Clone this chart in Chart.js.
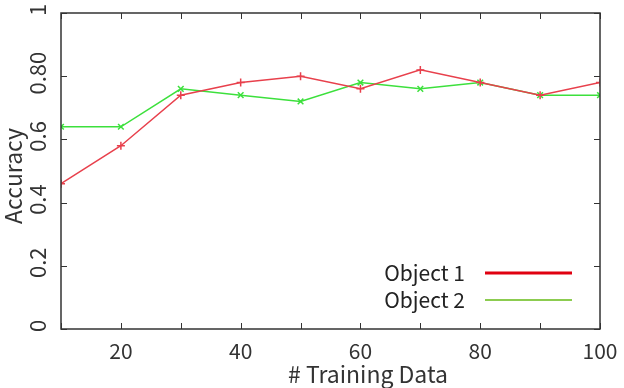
<!DOCTYPE html>
<html>
<head>
<meta charset="utf-8">
<script src="https://cdn.jsdelivr.net/npm/chart.js@4"></script>
<style>
  html, body { margin: 0; padding: 0; background: #fff; }
</style>
</head>
<body>
<canvas id="accChart" width="624" height="388"></canvas>
<script>
const trainingData = [10, 20, 30, 40, 50, 60, 70, 80, 90, 100];
const object1 = [0.46, 0.58, 0.74, 0.78, 0.80, 0.76, 0.82, 0.78, 0.74, 0.78];
const object2 = [0.64, 0.64, 0.76, 0.74, 0.72, 0.78, 0.76, 0.78, 0.74, 0.74];
const yTickValues = [0, 0.2, 0.4, 0.6, 0.8, 1];
const yTickLabels = ['0', '0.2', '0.4', '0.6', '0.80', '1'];
const xTitle = '# Training Data';
const yTitle = 'Accuracy';

const FONT = '"Noto Sans CJK JP", "Noto Sans", sans-serif';
const AXIS = '#333';

// gnuplot-like frame: box on four sides, inward ticks, rotated y labels, titles, legend inside
const framePlugin = {
    id: 'frame',
    afterDraw(chart) {
        const c = chart.ctx;
        const a = chart.chartArea;
        const xs = chart.scales.x;
        const ys = chart.scales.y;
        c.save();
        c.strokeStyle = AXIS;
        c.lineWidth = 1.5;
        c.strokeRect(a.left, a.top, a.right - a.left, a.bottom - a.top);

        c.lineWidth = 1;
        trainingData.forEach(v => {
            const px = Math.round(xs.getPixelForValue(v)) + 0.5;
            c.beginPath();
            c.moveTo(px, a.bottom); c.lineTo(px, a.bottom - 6);
            c.moveTo(px, a.top); c.lineTo(px, a.top + 6);
            c.stroke();
        });
        yTickValues.forEach(v => {
            const py = Math.round(ys.getPixelForValue(v)) + 0.5;
            c.beginPath();
            c.moveTo(a.left, py); c.lineTo(a.left + 6, py);
            c.moveTo(a.right, py); c.lineTo(a.right - 6, py);
            c.stroke();
        });

        // y tick labels, rotated
        c.fillStyle = AXIS;
        c.font = '22px ' + FONT;
        c.textAlign = 'center';
        c.textBaseline = 'middle';
        yTickValues.forEach((v, i) => {
            c.save();
            c.translate(38, ys.getPixelForValue(v) - 3);
            c.rotate(-Math.PI / 2);
            c.fillText(yTickLabels[i], 0, 0);
            c.restore();
        });

        // axis titles
        c.font = '23px ' + FONT;
        c.textBaseline = 'alphabetic';
        c.fillText(xTitle, 368, 383);
        c.save();
        c.translate(22, 176);
        c.rotate(-Math.PI / 2);
        c.fillText(yTitle, 0, 0);
        c.restore();

        // legend
        c.font = '21px ' + FONT;
        c.textAlign = 'right';
        c.textBaseline = 'middle';
        chart.data.datasets.forEach((ds, i) => {
            const y = 273 + i * 27;
            c.fillStyle = '#222';
            c.fillText(ds.label, 465, y);
            c.strokeStyle = ds.legendColor;
            c.lineWidth = ds.legendWidth;
            c.beginPath();
            c.moveTo(485, y); c.lineTo(572, y);
            c.stroke();
        });
        c.restore();
    }
};

new Chart(document.getElementById('accChart'), {
    type: 'line',
    data: {
        datasets: [{
            label: 'Object 1',
            data: trainingData.map((x, i) => ({ x: x, y: object1[i] })),
            borderColor: '#e8404c',
            backgroundColor: '#e8404c',
            legendColor: '#e00010',
            legendWidth: 3,
            borderWidth: 1.5,
            pointStyle: 'cross',
            pointRadius: 4,
            pointBorderWidth: 1.5,
            tension: 0
        }, {
            label: 'Object 2',
            data: trainingData.map((x, i) => ({ x: x, y: object2[i] })),
            borderColor: '#3ce03c',
            backgroundColor: '#3ce03c',
            legendColor: '#8ccc50',
            legendWidth: 2,
            borderWidth: 1.5,
            pointStyle: 'crossRot',
            pointRadius: 4,
            pointBorderWidth: 1.5,
            tension: 0
        }]
    },
    options: {
        responsive: false,
        animation: false,
        layout: { padding: { left: 0, right: 24, top: 13, bottom: 0 } },
        plugins: {
            legend: { display: false },
            tooltip: { enabled: false }
        },
        scales: {
            x: {
                type: 'linear',
                min: 10,
                max: 100,
                grid: { display: false },
                border: { display: false },
                ticks: {
                    stepSize: 10,
                    autoSkip: false,
                    maxRotation: 0,
                    padding: 1,
                    color: AXIS,
                    font: { family: FONT, size: 21 },
                    callback: v => (v % 20 === 0 ? String(v) : '')
                },
                afterFit: s => { s.height = 59; }
            },
            y: {
                min: 0,
                max: 1,
                grid: { display: false },
                border: { display: false },
                ticks: { display: false, stepSize: 0.2 },
                afterFit: s => { s.width = 61; }
            }
        }
    },
    plugins: [framePlugin]
});
</script>
</body>
</html>
